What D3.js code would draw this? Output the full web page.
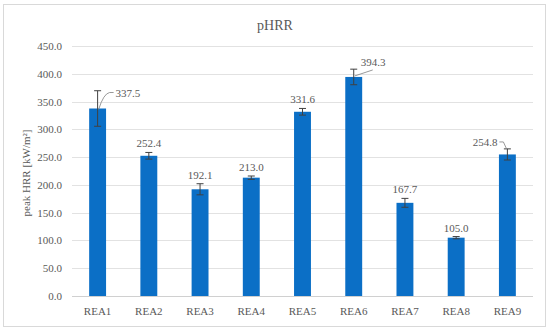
<!DOCTYPE html>
<html>
<head>
<meta charset="utf-8">
<script src="https://cdn.jsdelivr.net/npm/d3@7"></script>
<style>
  body { margin: 0; background: #fff; }
  text { font-family: "Liberation Serif", "DejaVu Serif", serif; fill: #595959; }
</style>
</head>
<body>
<svg id="chart" width="550" height="331"></svg>
<script>
const categories = ["REA1", "REA2", "REA3", "REA4", "REA5", "REA6", "REA7", "REA8", "REA9"];
const values = [337.5, 252.4, 192.1, 213.0, 331.6, 394.3, 167.7, 105.0, 254.8];
const errors = [32, 6, 10, 3, 6, 14, 8, 2, 10];
const yTicks = [0, 50, 100, 150, 200, 250, 300, 350, 400, 450];

// label placement: "top" = centred above, others get a leader line
const labelMode = ["leaderRight", "top", "top", "top", "top", "leaderRight2", "top", "top", "leaderLeft"];

const W = 550, H = 331;
const M = { left: 72, right: 17, top: 46, bottom: 35 };

const svg = d3.select("#chart");

/* Outer frame */
svg.append("rect")
    .attr("x", 3.5).attr("y", 4.5)
    .attr("width", 542).attr("height", 322)
    .attr("fill", "#fff")
    .attr("stroke", "#d9d9d9")
    .attr("stroke-width", 1);

/* Scale */
const x = d3.scaleBand()
    .domain(categories)
    .range([M.left, W - M.right])
    .paddingInner(0.67)
    .paddingOuter(0.335);

const y = d3.scaleLinear()
    .domain([0, 450])
    .range([H - M.bottom, M.top]);

/* Gridlines */
svg.append("g")
    .selectAll("line")
    .data(yTicks).enter()
    .append("line")
    .attr("x1", M.left).attr("x2", W - M.right)
    .attr("y1", d => Math.round(y(d)) + 0.5)
    .attr("y2", d => Math.round(y(d)) + 0.5)
    .attr("stroke", d => d === 0 ? "#d0d0d0" : "#e2e2e2")
    .attr("stroke-width", 1);

/* Y axis labels */
const yAxis = d3.axisLeft(y).tickValues(yTicks).tickSize(0).tickPadding(10)
    .tickFormat(d3.format(".1f"));
svg.append("g")
    .attr("transform", `translate(${M.left},0)`)
    .call(yAxis)
    .call(g => g.select(".domain").remove())
    .selectAll("text")
    .attr("font-size", 11)
    .style("font-family", "Liberation Serif")
    .attr("fill", "#595959");

/* X axis labels */
const xAxis = d3.axisBottom(x).tickSize(0).tickPadding(11);
svg.append("g")
    .attr("transform", `translate(0,${H - M.bottom})`)
    .call(xAxis)
    .call(g => g.select(".domain").remove())
    .selectAll("text")
    .attr("font-size", 11)
    .style("font-family", "Liberation Serif")
    .attr("fill", "#595959");

/* Bars */
svg.append("g")
    .selectAll("rect")
    .data(values).enter()
    .append("rect")
    .attr("x", (d, i) => x(categories[i]))
    .attr("width", x.bandwidth())
    .attr("y", d => y(d))
    .attr("height", d => y(0) - y(d))
    .attr("fill", "#0b6fc6");

/* Error bars */
const eb = svg.append("g").attr("stroke", "#404040").attr("stroke-width", 1);
values.forEach((v, i) => {
    const cx = x(categories[i]) + x.bandwidth() / 2;
    const e = errors[i];
    eb.append("line").attr("x1", cx).attr("x2", cx)
        .attr("y1", y(v - e)).attr("y2", y(v + e));
    eb.append("line").attr("x1", cx - 3.5).attr("x2", cx + 3.5)
        .attr("y1", y(v + e)).attr("y2", y(v + e));
    eb.append("line").attr("x1", cx - 3.5).attr("x2", cx + 3.5)
        .attr("y1", y(v - e)).attr("y2", y(v - e));
});

/* Data labels */
const lbl = svg.append("g");
const fmt = d3.format(".1f");
values.forEach((v, i) => {
    const cx = x(categories[i]) + x.bandwidth() / 2;
    const yv = y(v);
    const mode = labelMode[i];
    if (mode === "top") {
        lbl.append("text")
            .attr("x", cx).attr("y", y(v + errors[i]) - 5)
            .attr("text-anchor", "middle")
            .attr("font-size", 11)
            .text(fmt(v));
    } else if (mode === "leaderRight") {
        lbl.append("path")
            .attr("d", `M${cx + 1},${yv + 1} Q${cx + 6},${yv - 15} ${cx + 12},${yv - 16} L${cx + 16},${yv - 16}`)
            .attr("fill", "none").attr("stroke", "#7f7f7f").attr("stroke-width", 0.8);
        lbl.append("text")
            .attr("x", cx + 18).attr("y", yv - 12)
            .attr("font-size", 11)
            .text(fmt(v));
    } else if (mode === "leaderRight2") {
        lbl.append("path")
            .attr("d", `M${cx + 1},${yv - 1} L${cx + 19},${yv - 7}`)
            .attr("fill", "none").attr("stroke", "#7f7f7f").attr("stroke-width", 0.8);
        lbl.append("text")
            .attr("x", cx + 7).attr("y", yv - 11)
            .attr("font-size", 11)
            .text(fmt(v));
    } else if (mode === "leaderLeft") {
        lbl.append("path")
            .attr("d", `M${cx - 8},${yv - 12.5} L${cx - 4},${yv - 12.5} L${cx - 1},${yv - 6}`)
            .attr("fill", "none").attr("stroke", "#7f7f7f").attr("stroke-width", 0.8);
        lbl.append("text")
            .attr("x", cx - 10).attr("y", yv - 8)
            .attr("text-anchor", "end")
            .attr("font-size", 11)
            .text(fmt(v));
    }
});

/* Title */
svg.append("text")
    .attr("x", 275).attr("y", 30)
    .attr("text-anchor", "middle")
    .attr("font-size", 14)
    .text("pHRR");

/* Y axis title */
svg.append("text")
    .attr("transform", `translate(30,${(y(0) + y(450)) / 2 + 2}) rotate(-90)`)
    .attr("text-anchor", "middle")
    .attr("font-size", 11)
    .text("peak HRR [kW/m²]");
</script>
</body>
</html>
